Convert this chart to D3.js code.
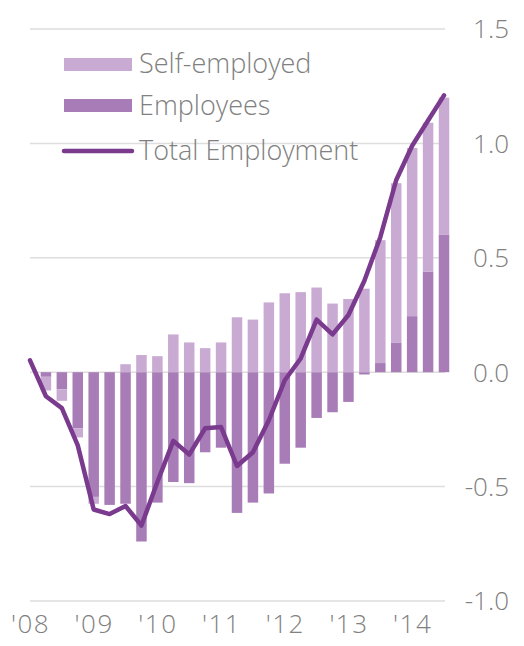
<!DOCTYPE html>
<html><head><meta charset="utf-8">
<script src="https://cdn.jsdelivr.net/npm/d3@7"></script>
<style>
html,body{margin:0;padding:0;background:#fff;}
svg{display:block;}
text{font-family:"Open Sans",sans-serif;font-weight:300;}
</style></head>
<body>
<svg id="chart" width="524" height="646"></svg>
<script>
// Quarterly data, 2008 Q1 – 2014 Q3
const quarters = d3.range(27).map(i => `${2008 + Math.floor(i/4)}Q${i%4+1}`);
const employees = [0.0,-0.02,-0.075,-0.245,-0.545,-0.58,-0.575,-0.74,-0.57,-0.48,-0.485,-0.35,-0.33,-0.615,-0.57,-0.53,-0.40,-0.33,-0.20,-0.175,-0.13,-0.01,0.04,0.13,0.245,0.44,0.60];
const selfEmployed = [0.0,-0.06,-0.05,-0.04,-0.03,0.0,0.035,0.075,0.07,0.165,0.13,0.105,0.13,0.24,0.23,0.305,0.345,0.35,0.37,0.30,0.32,0.365,0.537,0.696,0.735,0.65,0.60];
const totalEmployment = [0.052,-0.105,-0.157,-0.32,-0.60,-0.62,-0.585,-0.67,-0.48,-0.30,-0.36,-0.245,-0.24,-0.41,-0.35,-0.21,-0.035,0.06,0.23,0.165,0.25,0.40,0.59,0.84,0.99,1.10,1.21];
const yTicks = [-1.0,-0.5,0.0,0.5,1.0,1.5];
const xTickIdx = [0,4,8,12,16,20,24];
const xTickLabels = ["'08","'09","'10","'11","'12","'13","'14"];
const legendLabels = ["Self-employed","Employees","Total Employment"];

const colors = {self:"#c9aad3", emp:"#a87db7", line:"#7a3a8d", grid:"#dddddd", text:"#808080"};

const svg = d3.select("#chart");
const x = d3.scaleLinear().domain([0,26]).range([30,444]);
const y = d3.scaleLinear().domain([-1,1.5]).range([601,29]);
const barW = 10.5;

// gridlines
svg.append("g").selectAll("line").data(yTicks).join("line")
  .attr("x1",30).attr("x2",445)
  .attr("y1",d=>y(d)).attr("y2",d=>y(d))
  .attr("stroke",colors.grid).attr("stroke-width",1.5);

// right axis labels
const fmt = d => d3.format(".1f")(d).replace("\u2212","-");
const yAxis = d3.axisRight(y).tickValues(yTicks).tickFormat(fmt).tickSize(0);
const ya = svg.append("g").attr("transform","translate(509,0)").call(yAxis);
ya.select(".domain").remove();
ya.selectAll("text").attr("x",0).attr("text-anchor","end").attr("dy","0.34em")
  .attr("fill",colors.text).style("font-size","26px").style("font-family","Open Sans").style("font-weight","300");

// stacked bars
const rows = quarters.map((q,i)=>({i, emp:employees[i], self:selfEmployed[i]}));
const stack = d3.stack().keys(["emp","self"]).offset(d3.stackOffsetDiverging);
const series = stack(rows);
svg.append("g").selectAll("g").data(series).join("g")
  .attr("fill",d=>d.key==="emp"?colors.emp:colors.self)
  .selectAll("rect").data(d=>d).join("rect")
  .attr("x",d=>x(d.data.i)-barW/2)
  .attr("width",barW)
  .attr("y",d=>y(Math.max(d[0],d[1])))
  .attr("height",d=>Math.abs(y(d[0])-y(d[1])));

// legend
const lg = svg.append("g");
lg.append("rect").attr("x",64).attr("y",58).attr("width",68).attr("height",13).attr("fill",colors.self);
lg.append("rect").attr("x",64).attr("y",99).attr("width",68).attr("height",13).attr("fill",colors.emp);
lg.append("line").attr("x1",64).attr("x2",132).attr("y1",151).attr("y2",151)
  .attr("stroke",colors.line).attr("stroke-width",4.5).attr("stroke-linecap","round");
lg.selectAll("text").data(legendLabels).join("text")
  .attr("x",139).attr("y",(d,i)=>[73,115,160][i])
  .attr("fill",colors.text).style("font-size","27px").text(d=>d);

// total line
const line = d3.line().x((d,i)=>x(i)).y(d=>y(d));
svg.append("path").datum(totalEmployment).attr("d",line)
  .attr("fill","none").attr("stroke",colors.line).attr("stroke-width",4.5)
  .attr("stroke-linejoin","round").attr("stroke-linecap","round");

// x axis labels
const xAxis = d3.axisBottom(x).tickValues(xTickIdx).tickFormat((d,i)=>xTickLabels[i]).tickSize(0);
const xa = svg.append("g").attr("transform","translate(0,611)").call(xAxis);
xa.select(".domain").remove();
xa.selectAll("text").attr("y",0).attr("dy","0.85em").attr("fill",colors.text)
  .style("font-size","26px").style("font-family","Open Sans").style("font-weight","300").style("letter-spacing","1.5px");
</script>
</body></html>
